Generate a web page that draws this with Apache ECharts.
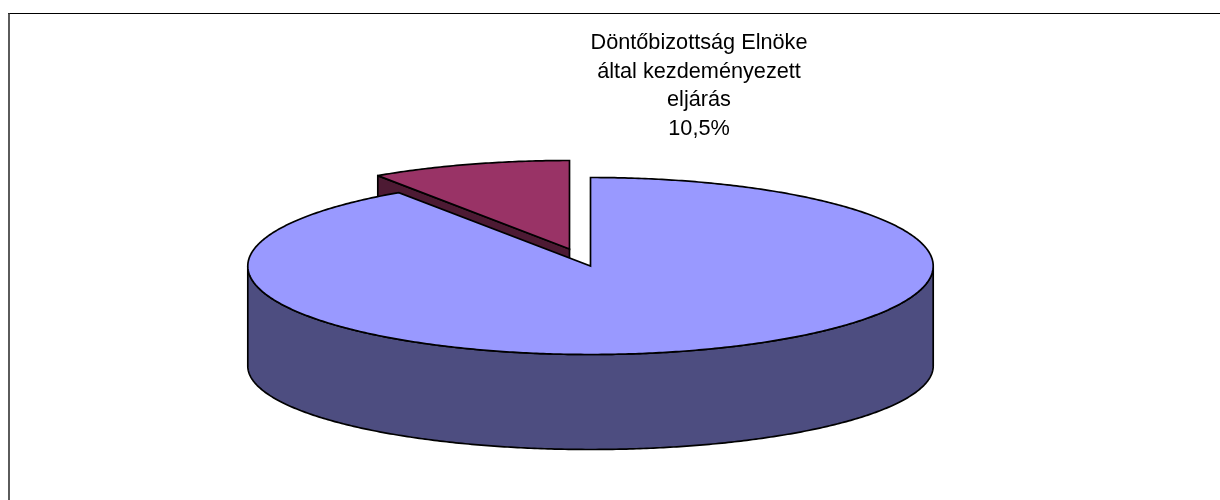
<!DOCTYPE html>
<html>
<head>
<meta charset="utf-8">
<style>
html, body { margin: 0; padding: 0; background: #ffffff; }
#main { width: 1220px; height: 500px; }
</style>
<script src="https://cdn.jsdelivr.net/npm/echarts@6/dist/echarts.min.js"></script>
</head>
<body>
<div id="main"></div>
<script>
// Chart data
var sliceNames = ['', 'Döntőbizottság Elnöke\náltal kezdeményezett\neljárás'];
var sliceValues = [89.5, 10.5];

// Slice colours: top face, side wall
var topColors = ['#9999ff', '#993366'];
var wallColors = ['#4d4d80', '#4d1a33'];

// Pie geometry
var cx = 590.5, cy = 266, rx = 342.7, ry = 88.5, depth = 100;
var ryBottom = 83.5; // the lower rim is a bit flatter in the perspective
var explode = [[0, 0], [-21, -17]];
// the 3D projection squeezes angles around 12 o'clock
var squeeze = 0.87;

var total = sliceValues.reduce(function (a, b) { return a + b; }, 0);

function rimAngle(fraction) {
    var a = fraction * Math.PI * 2;
    return Math.atan2(squeeze * Math.sin(a), Math.cos(a));
}

function unwrap(a, from) {
    while (a < from) a += Math.PI * 2;
    return a;
}

function rimPoint(t, dx, dy, down) {
    var r = down ? ryBottom : ry;
    return [cx + dx + rx * Math.sin(t), cy + dy - r * Math.cos(t) + (down || 0)];
}

function rimPoints(t0, t1, dx, dy, down) {
    var pts = [];
    var steps = Math.max(2, Math.ceil(Math.abs(t1 - t0) / 0.01));
    for (var i = 0; i <= steps; i++) {
        pts.push(rimPoint(t0 + (t1 - t0) * i / steps, dx, dy, down));
    }
    return pts;
}

function polygon(points, fill, z2) {
    return {
        type: 'polygon',
        z2: z2,
        shape: { points: points },
        style: { fill: fill, stroke: '#000000', lineWidth: 1.7, lineJoin: 'miter', miterLimit: 3 }
    };
}

function renderSlice(params, api) {
    var i = params.dataIndex;
    var before = 0;
    for (var k = 0; k < i; k++) before += sliceValues[k];
    var t0 = unwrap(rimAngle(before / total), 0);
    var t1 = unwrap(rimAngle((before + api.value(0)) / total), t0 + 0.001);
    var dx = explode[i][0], dy = explode[i][1];
    var apex = [cx + dx, cy + dy];
    var base = i === 0 ? 10 : 0;
    var children = [];

    // front rim wall, only the part of the rim facing the viewer
    var from = Math.max(t0, Math.PI / 2), to = Math.min(t1, Math.PI * 1.5);
    if (to > from) {
        var wall = rimPoints(from, to, dx, dy, 0).concat(rimPoints(to, from, dx, dy, depth));
        children.push(polygon(wall, wallColors[i], base + 1));
    }
    // cut face at the start of the slice, seen through the gap
    if (t0 > Math.PI) {
        var p = rimPoint(t0, dx, dy);
        children.push(polygon([apex, p, [p[0], p[1] + depth], [apex[0], apex[1] + depth]], wallColors[i], base + 2));
    }
    // top face
    children.push(polygon([apex].concat(rimPoints(t0, t1, dx, dy, 0)), topColors[i], base + 3));

    // label
    if (sliceNames[i]) {
        children.push({
            type: 'text',
            z2: 30,
            style: {
                x: 699,
                y: 86,
                text: sliceNames[i] + '\n' + String(api.value(0)).replace('.', ',') + '%',
                fill: '#000000',
                font: '21.7px "Liberation Sans", Arial, sans-serif',
                lineHeight: 28.5,
                align: 'center',
                verticalAlign: 'middle'
            }
        });
    }
    return { type: 'group', children: children };
}

var myChart = echarts.init(document.getElementById('main'));
var option = {
    animation: false,
    backgroundColor: '#ffffff',
    graphic: [
        {
            type: 'line',
            silent: true,
            shape: { x1: 8, y1: 13.5, x2: 1220, y2: 13.5 },
            style: { stroke: '#000000', lineWidth: 1 }
        },
        {
            type: 'line',
            silent: true,
            shape: { x1: 9, y1: 13, x2: 9, y2: 500 },
            style: { stroke: '#333333', lineWidth: 1.6 }
        }
    ],
    series: [
        {
            type: 'custom',
            coordinateSystem: 'none',
            silent: true,
            renderItem: renderSlice,
            data: sliceValues.map(function (v, i) {
                return { name: sliceNames[i], value: [v] };
            })
        }
    ]
};
myChart.setOption(option);
</script>
</body>
</html>
